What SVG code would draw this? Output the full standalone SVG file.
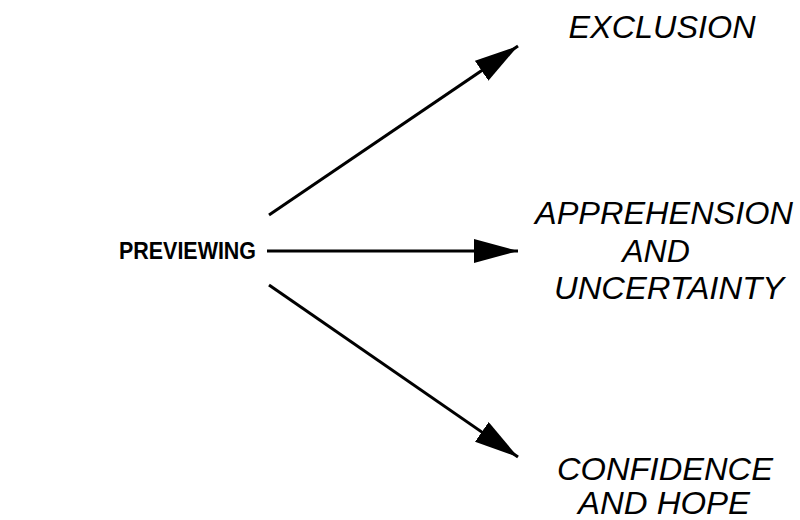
<svg xmlns="http://www.w3.org/2000/svg" width="800" height="520" viewBox="0 0 800 520">
  <style>
    .src { font-family: "Liberation Sans", Arial, sans-serif; font-weight: bold; font-size: 23px; fill: #000; }
    .out { font-family: "Liberation Sans", Arial, sans-serif; font-style: italic; font-size: 32px; fill: #000; text-anchor: middle; }
    .edge { stroke: #000; stroke-width: 3; fill: none; marker-end: url(#head); }
  </style>
  <defs>
    <marker id="head" markerUnits="userSpaceOnUse" viewBox="0 0 44 24" refX="44" refY="12" markerWidth="44" markerHeight="24" orient="auto">
      <path d="M0,0 L44,12 L0,24 Z" fill="#000"/>
    </marker>
  </defs>
  <rect width="800" height="520" fill="#fff"/>

  <g id="connectors">
    <line class="edge" x1="269" y1="215" x2="518" y2="46"/>
    <line class="edge" x1="267" y1="251" x2="518" y2="251"/>
    <line class="edge" x1="269" y1="285" x2="518" y2="457"/>
  </g>

  <g id="previewing">
    <text class="src" x="119" y="259" textLength="137" lengthAdjust="spacingAndGlyphs">PREVIEWING</text>
  </g>

  <g id="exclusion">
    <text class="out" x="662" y="38" textLength="187" lengthAdjust="spacingAndGlyphs">EXCLUSION</text>
  </g>

  <g id="apprehension">
    <text class="out" x="664" y="224" textLength="258" lengthAdjust="spacingAndGlyphs">APPREHENSION</text>
    <text class="out" x="656" y="262">AND</text>
    <text class="out" x="669" y="299" textLength="230" lengthAdjust="spacingAndGlyphs">UNCERTAINTY</text>
  </g>

  <g id="confidence">
    <text class="out" x="665" y="480" textLength="216" lengthAdjust="spacingAndGlyphs">CONFIDENCE</text>
    <text class="out" x="664" y="514" textLength="172" lengthAdjust="spacingAndGlyphs">AND HOPE</text>
  </g>
</svg>
